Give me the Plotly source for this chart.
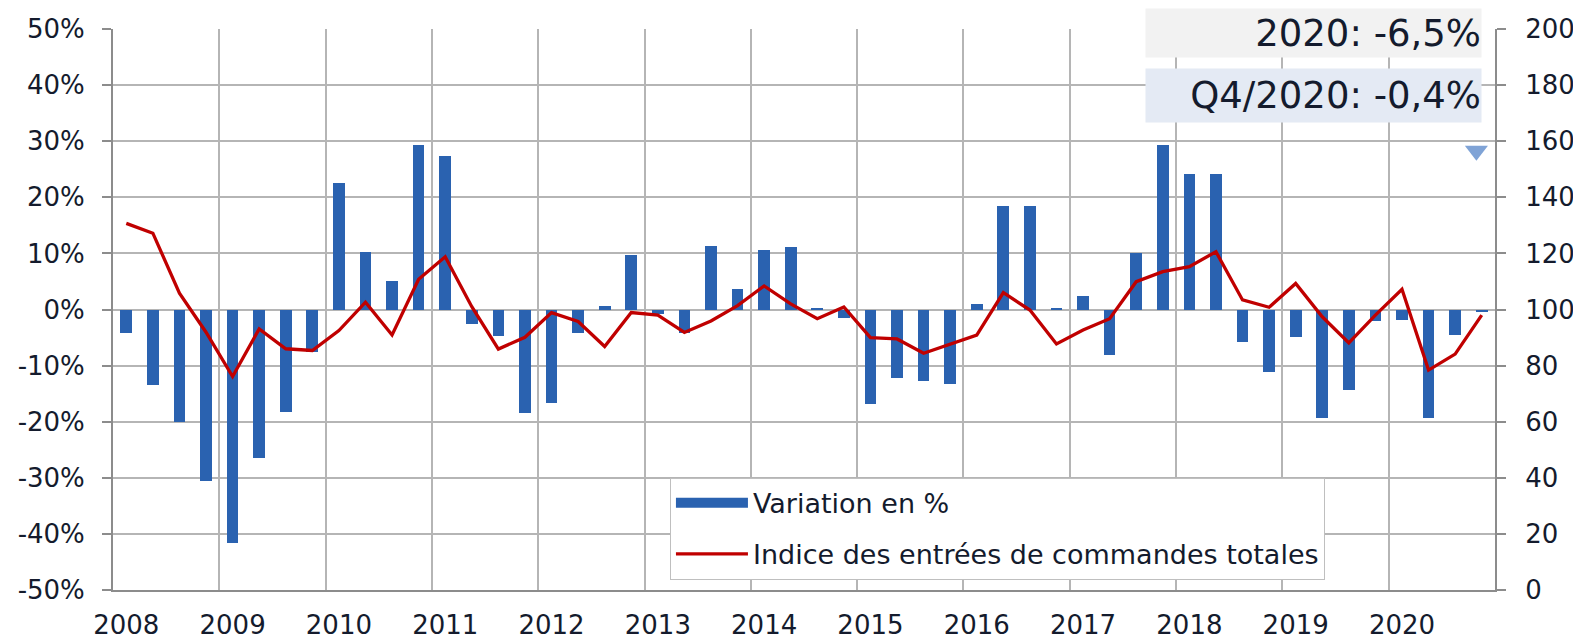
import plotly.graph_objects as go

years = [str(y) for y in range(2008, 2021)]
quarters = list(range(52))  # Q1 2008 .. Q4 2020

variation_pct = [
    -4.2, -13.5, -20.1, -30.6,
    -41.6, -26.4, -18.3, -7.5,
    22.6, 10.3, 5.0, 29.3,
    27.3, -2.5, -4.8, -18.4,
    -16.6, -4.2, 0.7, 9.8,
    -0.8, -4.2, 11.3, 3.7,
    10.6, 11.2, 0.3, -1.5,
    -16.9, -12.2, -12.7, -13.2,
    1.0, 18.5, 18.4, 0.2,
    2.4, -8.1, 10.1, 29.4,
    24.1, 24.2, -5.8, -11.1,
    -4.9, -19.3, -14.4, -2.0,
    -1.9, -19.3, -4.6, -0.4,
]

index_orders = [
    130.7, 127.2, 105.8, 91.9,
    76.1, 93.1, 86.0, 85.4,
    92.5, 102.6, 90.9, 110.8,
    118.8, 101.0, 85.9, 90.1,
    98.9, 95.7, 86.8, 98.9,
    98.0, 91.8, 95.9, 101.4,
    108.4, 102.0, 96.7, 100.9,
    90.0, 89.5, 84.4, 87.6,
    90.9, 106.0, 99.8, 87.7,
    92.7, 96.7, 109.9, 113.5,
    115.3, 120.6, 103.4, 100.8,
    109.3, 97.4, 88.1, 98.0,
    107.2, 78.4, 84.1, 98.0,
]

left_tickvals = [-50, -40, -30, -20, -10, 0, 10, 20, 30, 40, 50]
left_ticktext = ["-50%", "-40%", "-30%", "-20%", "-10%", "0%", "10%", "20%", "30%", "40%", "50%"]
right_tickvals = [0, 20, 40, 60, 80, 100, 120, 140, 160, 180, 200]

box_texts = ["2020: -6,5%", "Q4/2020: -0,4%"]
marker_x = [50.8]
marker_y = [28.3]

FONT = "DejaVu Sans"
TXT = "#141b2d"
GRID = "#b5b5b5"
AXIS = "#8c8c8c"
BLUE = "#2a62b0"
RED = "#c00000"

fig = go.Figure()
fig.add_trace(go.Bar(
    x=quarters, y=variation_pct, name="Variation en %",
    marker=dict(color=BLUE, line=dict(width=0)), width=0.44,
    yaxis="y", showlegend=False,
))
# legend swatch for the bars (wide blue rectangle like the original)
fig.add_trace(go.Scatter(
    x=[None], y=[None], name="Variation en %", mode="lines",
    line=dict(color=BLUE, width=17), yaxis="y", legendgroup="a",
))
fig.add_trace(go.Scatter(
    x=quarters, y=index_orders, name="Indice des entrées de commandes totales",
    mode="lines", line=dict(color=RED, width=3.3), yaxis="y2", legendgroup="b",
))
fig.add_trace(go.Scatter(
    x=marker_x, y=marker_y, mode="markers", showlegend=False, yaxis="y",
    marker=dict(symbol="triangle-down", size=20, color="#7fa3d6"),
    hoverinfo="skip", cliponaxis=False,
))

# page body has an 8px margin: figure is sized/margined to compensate
fig.update_layout(
    width=1573, height=634,
    margin=dict(l=105, r=86, t=21, b=52),
    paper_bgcolor="white", plot_bgcolor="white",
    font=dict(family=FONT, color=TXT, size=26),
    bargap=0,
    showlegend=True,
    legend=dict(
        x=0.403, y=0.2, xanchor="left", yanchor="top",
        bgcolor="white", bordercolor="#bfbfbf", borderwidth=1,
        font=dict(size=27, color=TXT, family=FONT),
        traceorder="grouped", tracegroupgap=13,
        itemwidth=72,
    ),
    xaxis=dict(
        range=[-0.5, 51.5], automargin=False,
        tickmode="array", tickvals=[4 * i for i in range(len(years))], ticktext=years,
        ticks="", showgrid=False, zeroline=False,
        showline=True, linecolor=AXIS, linewidth=2,
        tickfont=dict(size=26),
        ticklabelstandoff=11,
        minor=dict(tickmode="array", tickvals=[4 * i - 0.5 for i in range(len(years) + 1)],
                   showgrid=True, gridcolor=GRID, gridwidth=1.5, ticks=""),
    ),
    yaxis=dict(
        range=[-50, 50], automargin=False,
        tickmode="array", tickvals=left_tickvals, ticktext=left_ticktext,
        showgrid=True, gridcolor=GRID, gridwidth=1.5, zeroline=False,
        showline=True, linecolor=AXIS, linewidth=2,
        ticks="outside", ticklen=9, tickcolor=AXIS, tickwidth=1.5,
        ticklabelstandoff=12, tickfont=dict(size=26),
    ),
    yaxis2=dict(
        range=[0, 200], overlaying="y", side="right", automargin=False,
        tickmode="array", tickvals=right_tickvals,
        showgrid=False, zeroline=False,
        showline=True, linecolor=AXIS, linewidth=2,
        ticks="outside", ticklen=9, tickcolor=AXIS, tickwidth=1.5,
        ticklabelstandoff=14, tickfont=dict(size=26),
    ),
    annotations=[
        dict(xref="paper", yref="paper", x=0.9906, y=1.0374, xanchor="right", yanchor="top",
             text=box_texts[0], showarrow=False, align="right", width=335, height=48,
             bgcolor="#f2f2f2", font=dict(size=37, color=TXT, family=FONT), borderpad=0),
        dict(xref="paper", yref="paper", x=0.9906, y=0.9305, xanchor="right", yanchor="top",
             text=box_texts[1], showarrow=False, align="right", width=335, height=53,
             bgcolor="#e4eaf4", font=dict(size=37, color=TXT, family=FONT), borderpad=0),
    ],
)

fig.write_html("out.html")
